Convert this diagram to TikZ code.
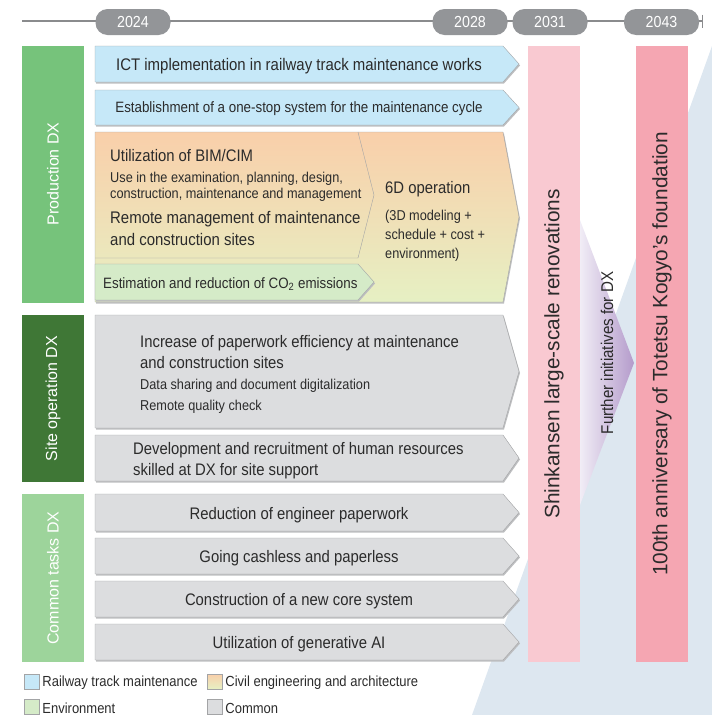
\documentclass[tikz,border=0pt]{standalone}
\usepackage{fontspec}
\setmainfont{Liberation Sans}
\newfontfamily\condfont[FakeStretch=0.89]{Liberation Sans}
\usetikzlibrary{positioning, arrows.meta}

\definecolor{linegray}{HTML}{8A8B8D}
\definecolor{pillgray}{HTML}{939598}
\definecolor{prodgreen}{HTML}{76C37B}
\definecolor{sitegreen}{HTML}{3F7736}
\definecolor{commongreen}{HTML}{9DD49B}
\definecolor{railblue}{HTML}{C6E8F8}
\definecolor{commongray}{HTML}{DCDDDF}
\definecolor{envgreen}{HTML}{D5EBC8}
\definecolor{civiltop}{HTML}{F9CFAA}
\definecolor{civilbottom}{HTML}{E6F0C3}
\definecolor{pinklight}{HTML}{F9C9D1}
\definecolor{pinkdark}{HTML}{F5A6B2}
\definecolor{skyback}{HTML}{DDE7F0}
\definecolor{lavlight}{HTML}{F1EDF6}
\definecolor{lavdark}{HTML}{B49BCB}
\definecolor{edgegray}{HTML}{A3A4A6}
\definecolor{shadowgray}{HTML}{BDBEC0}
\definecolor{textgray}{HTML}{2B2B2B}

\newcommand{\bigtxt}{\condfont\fontsize{16.7}{21}\selectfont}
\newcommand{\smalltxt}{\condfont\fontsize{14.3}{21}\selectfont}

% chevron box: style, left, top, right, bottom
\newcommand{\taskshape}[5]{%
    \fill[shadowgray] ({#2+1},{#3+1.5}) -- ({#4+1},{#3+1.5}) -- ({#4+17},{(#3+#5)/2+1.5}) -- ({#4+1},{#5+1.5}) -- ({#2+1},{#5+1.5}) -- cycle;
    \draw[#1] (#2,#3) -- (#4,#3) -- ({#4+16},{(#3+#5)/2}) -- (#4,#5) -- (#2,#5) -- cycle;}

\tikzset{
    yearpill/.style={fill=pillgray, text=white, rounded corners=12pt, minimum width=75pt, minimum height=26pt, inner sep=0pt, font=\condfont\fontsize{16}{16}\selectfont},
    catbar/.style={rotate=90, text=white, minimum height=62pt, inner sep=0pt, font=\fontsize{16}{16}\selectfont},
    goalbar/.style={rotate=90, text=textgray, minimum height=52pt, minimum width=616pt, inner sep=0pt, font=\fontsize{20.8}{21}\selectfont},
    taskblue/.style={draw=edgegray, fill=railblue},
    taskgray/.style={draw=edgegray, fill=commongray},
    tasktext/.style={text=textgray, inner sep=0pt, yshift=-2pt, font=\bigtxt},
    legbox/.style={draw=edgegray, minimum size=15pt, inner sep=0pt},
    legtext/.style={text=textgray, inner sep=1pt, yshift=-1.5pt, font=\condfont\fontsize{14.6}{15}\selectfont}
}

\begin{document}
\begin{tikzpicture}[x=1pt, y=-1pt]
    \useasboundingbox (0,0) rectangle (712,715);

    % background wedge and further DX
    \fill[skyback] (472,715) -- (712,46) -- (712,715) -- cycle;
    \shade[left color=lavlight, right color=lavdark] (580,220) -- (634,363) -- (580,505) -- cycle;
    \node (further) at (607,353) [rotate=90, text=textgray, inner sep=0pt, font=\condfont\fontsize{17}{17}\selectfont] {Further initiatives for DX};

    % timeline
    \coordinate (tstart) at (22,21);
    \coordinate (tend) at (703,21);
    \draw [linegray, line width=1.3pt, -{Bar[width=13pt, line width=1.3pt]}] (tstart) -- (tend);
    \node (y2024) at (133,22) [yearpill] {2024};
    \node (y2028) at (470,22) [yearpill] {2028};
    \node (y2031) at (550,22) [yearpill] {2031};
    \node (y2043) at (661.5,22) [yearpill] {2043};

    % milestones
    \node (shinkansen) at (554,354) [goalbar, fill=pinklight] {Shinkansen large-scale renovations};
    \node (anniversary) at (662,354) [goalbar, fill=pinkdark] {100th anniversary of Totetsu Kogyo's foundation};

    % categories
    \node (proddx) at (53,174) [catbar, fill=prodgreen, minimum width=257pt] {Production DX};
    \node (sitedx) at (53,398.5) [catbar, fill=sitegreen, minimum width=167pt] {Site operation DX};
    \node (commondx) at (53,578) [catbar, fill=commongreen, minimum width=168pt] {Common tasks DX};

    % production DX
    \taskshape{taskblue}{95}{46}{503}{82}
    \taskshape{taskblue}{95}{90}{503}{125}
    \fill[shadowgray] (96,133.5) -- (504,133.5) -- (520,218.5) -- (504,303.5) -- (96,303.5) -- cycle;
    \draw[edgegray, top color=civiltop, bottom color=civilbottom] (95,132) -- (503,132) -- (519,217) -- (503,302) -- (95,302) -- cycle;
    \draw[edgegray] (358,132) -- (374,195) -- (358,258) -- (95,258);
    \taskshape{draw=edgegray, fill=envgreen}{95}{264}{358}{300}

    \node (ict) at (299,64) [tasktext, font=\condfont\fontsize{16.8}{20}\selectfont] {ICT implementation in railway track maintenance works};
    \node (onestop) at (299,107) [tasktext, font=\condfont\fontsize{15}{18}\selectfont] {Establishment of a one-stop system for the maintenance cycle};
    \node (bim) at (110,154) [tasktext, anchor=west] {Utilization of BIM/CIM};
    \node (bimuse) at (110,185) [tasktext, anchor=west, align=left, font=\condfont\fontsize{14.3}{16.5}\selectfont] {Use in the examination, planning, design,\\construction, maintenance and management};
    \node (remote) at (110,226) [tasktext, anchor=west, align=left, font=\condfont\fontsize{16.8}{22}\selectfont] {Remote management of maintenance\\and construction sites};
    \node (sixd) at (385,187) [tasktext, anchor=west] {6D operation};
    \node (sixdinfo) at (385,234) [tasktext, anchor=west, align=left, font=\condfont\fontsize{14.3}{19}\selectfont] {(3D modeling +\\schedule + cost +\\environment)};
    \node (co2) at (103,282) [tasktext, anchor=west, font=\condfont\fontsize{15}{18}\selectfont] {Estimation and reduction of CO\textsubscript{2} emissions};

    % site operation DX
    \taskshape{taskgray}{95}{315}{503}{428}
    \taskshape{taskgray}{95}{435}{503}{481}
    \node (paperwork) at (140,350.5) [tasktext, anchor=west, align=left] {Increase of paperwork efficiency at maintenance\\and construction sites};
    \node (paperinfo) at (140,394.5) [tasktext, anchor=west, align=left, font=\smalltxt] {Data sharing and document digitalization\\Remote quality check};
    \node (talent) at (133,458.5) [tasktext, anchor=west, align=left] {Development and recruitment of human resources\\skilled at DX for site support};

    % common tasks DX
    \foreach \ya/\yb in {494/531, 538/574, 581/617, 624/660}
        {\taskshape{taskgray}{95}{\ya}{503}{\yb}}
    \node (engineer) at (299,513) [tasktext] {Reduction of engineer paperwork};
    \node (cashless) at (299,556) [tasktext] {Going cashless and paperless};
    \node (coresys) at (299,599) [tasktext] {Construction of a new core system};
    \node (genai) at (299,642) [tasktext] {Utilization of generative AI};

    % legend
    \node (lgrail) at (31.5,681.5) [legbox, fill=railblue] {};
    \node (lgrailtxt) [legtext, right=2pt of lgrail] {Railway track maintenance};
    \node (lgcivil) at (214.5,681.5) [legbox, top color=civiltop, bottom color=civilbottom] {};
    \node (lgciviltxt) [legtext, right=2pt of lgcivil] {Civil engineering and architecture};
    \node (lgenv) at (31.5,706.5) [legbox, fill=envgreen] {};
    \node (lgenvtxt) [legtext, right=2pt of lgenv] {Environment};
    \node (lgcommon) at (214.5,706.5) [legbox, fill=commongray] {};
    \node (lgcommontxt) [legtext, right=2pt of lgcommon] {Common};
\end{tikzpicture}
\end{document}
